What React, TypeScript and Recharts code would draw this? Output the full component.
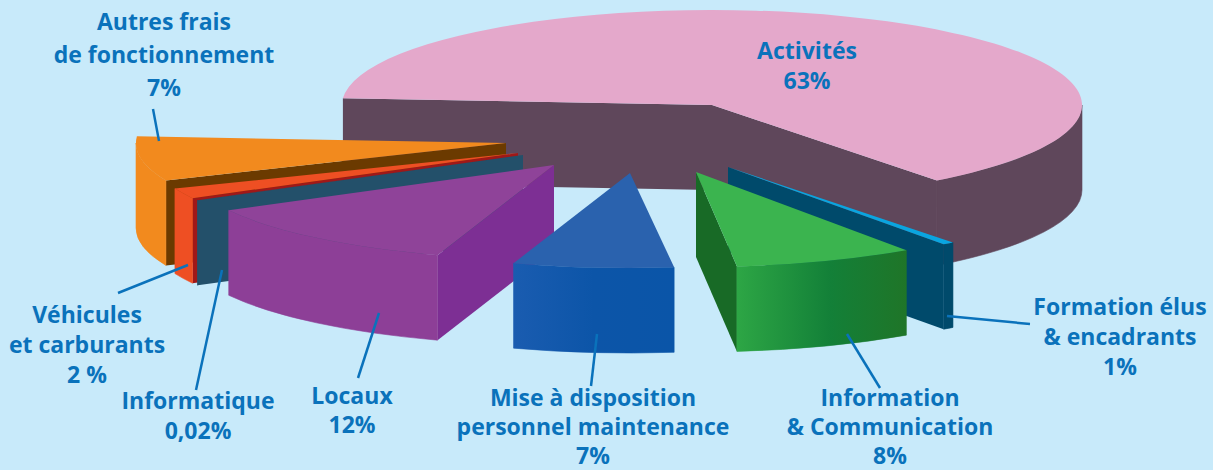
import React from "react";
import { PieChart, Pie } from "recharts";

// slices in clockwise order, starting from the left edge of the big one
const sliceNames = [
  "Activités",
  "Formation",
  "Information",
  "Mise",
  "Locaux",
  "Informatique",
  "Vehicules",
  "Autres",
];
const sliceShares = [63, 1, 8, 7, 12, 0.02, 2, 7];

const labelLines: Record<string, string[]> = {
  Activités: ["Activités", "63%"],
  Formation: ["Formation élus", "& encadrants", "1%"],
  Information: ["Information", "& Communication", "8%"],
  Mise: ["Mise à disposition", "personnel maintenance", "7%"],
  Locaux: ["Locaux", "12%"],
  Informatique: ["Informatique", "0,02%"],
  Vehicules: ["Véhicules", "et carburants", "2 %"],
  Autres: ["Autres frais", "de fonctionnement", "7%"],
};

const rows = sliceNames.map((name, i) => ({ name, value: sliceShares[i] }));
const rowsReversed = [...rows].reverse();

const WIDTH = 1213;
const HEIGHT = 470;
const CX = 712;
const CY = 105;
const RADIUS = 370;
const SQUASH = 95 / 370; // tilt of the disc
const DEPTH = 85;
const INK = "#0a72bb";
const BACKGROUND = "#c8eafa";

const backLayer = ["Activités", "Formation", "Information"];

// how far each slice was pulled out of the pie, its colours, and small
// angle nudges (s1, s2) because the original's slices aren't quite to scale
const sliceLook: Record<string, any> = {
  Activités: { dx: 0, dy: 0, s2: 1.8, top: "#e4a8cb", wall: "#5f475b", cut: "#5f475b" },
  Formation: { dx: 16, dy: 62, s1: 1.8, top: "#0aa5e0", wall: "#004a6b", cut: "#004a6b" },
  Information: { dx: -16, dy: 67, s1: 1, s2: 0.5, top: "#3bb44f", wall: "url(#greenWall)", cut: "#186a26" },
  Mise: { dx: -82, dy: 68, top: "#2a62ae", wall: "url(#blueWall)", cut: "#0f4f9f" },
  Locaux: { dx: -158, dy: 60, top: "#8f4399", wall: "#8d3f97", cut: "#7d2f94" },
  Informatique: { dx: -189, dy: 50, top: "#23506a", wall: "#23506a", cut: "#23506a" },
  Vehicules: { dx: -194, dy: 48, s2: -0.8, top: "#ee4f23", wall: "#ee4f23", cut: "#a01818" },
  Autres: { dx: -206, dy: 38, s1: -2, top: "#f28a1e", wall: "#f28a1e", cut: "#6b3a00" },
};

// label anchor points (x, first baseline, line gap) and leader lines
const labelLook: Record<string, any> = {
  Activités: { x: 807, y: 59, gap: 30 },
  Formation: { x: 1120, y: 315, gap: 30, line: [947, 316, 1030, 324] },
  Information: { x: 890, y: 406, gap: 29, line: [847, 334, 880, 388] },
  Mise: { x: 593, y: 406, gap: 29, line: [597, 334, 591, 386] },
  Locaux: { x: 352, y: 404, gap: 29, line: [379, 313, 358, 378] },
  Informatique: { x: 198, y: 409, gap: 30, line: [222, 270, 196, 390] },
  Vehicules: { x: 87, y: 323, gap: 30, line: [188, 265, 118, 293] },
  Autres: { x: 164, y: 30, gap: 33, line: [153, 109, 159, 141] },
};

const rad = (deg: number) => (deg * Math.PI) / 180;

function Slice3D(props: any) {
  const { cx, cy, outerRadius, startAngle, endAngle, name } = props;
  if (backLayer.includes(name) !== props.back) return <g />;
  const look = sliceLook[name];
  const ax = cx + look.dx;
  const ay = cy + look.dy;
  const rx = outerRadius;
  const ry = outerRadius * SQUASH;
  // screen angles grow clockwise
  const a1 = -Math.max(startAngle, endAngle) + (look.s1 || 0);
  const a2 = -Math.min(startAngle, endAngle) + (look.s2 || 0);
  const pt = (a: number) => [
    ax + rx * Math.cos(rad(a)),
    ay + ry * Math.sin(rad(a)),
  ];
  const [x1, y1] = pt(a1);
  const [x2, y2] = pt(a2);
  const big = a2 - a1 > 180 ? 1 : 0;

  const cutPath = (x: number, y: number) =>
    `M${ax},${ay} L${x},${y} L${x},${y + DEPTH} L${ax},${ay + DEPTH} Z`;

  // a cut face only shows when it turns toward the viewer
  const showCut1 = Math.cos(rad(a1)) < 0;
  const showCut2 = Math.cos(rad(a2)) > 0;

  // outer wall only shows on the front half
  const w1 = Math.max(a1, 0);
  const w2 = Math.min(a2, 180);
  let wallPath = "";
  if (w2 > w1) {
    const [wx1, wy1] = pt(w1);
    const [wx2, wy2] = pt(w2);
    wallPath =
      `M${wx1},${wy1} A${rx},${ry} 0 0 1 ${wx2},${wy2} ` +
      `L${wx2},${wy2 + DEPTH} A${rx},${ry} 0 0 0 ${wx1},${wy1 + DEPTH} Z`;
  }

  return (
    <g>
      {showCut1 && <path d={cutPath(x1, y1)} fill={look.cut} />}
      {showCut2 && <path d={cutPath(x2, y2)} fill={look.cut} />}
      {wallPath && <path d={wallPath} fill={look.wall} stroke={look.wall} strokeWidth={0.6} />}
      <path
        d={`M${ax},${ay} L${x1},${y1} A${rx},${ry} 0 ${big} 1 ${x2},${y2} Z`}
        fill={look.top}
      />
    </g>
  );
}

function SliceLabel(props: any) {
  const name = rowsReversed[props.index].name;
  const look = labelLook[name];
  return (
    <g>
      {look.line && (
        <line
          x1={look.line[0]}
          y1={look.line[1]}
          x2={look.line[2]}
          y2={look.line[3]}
          stroke={INK}
          strokeWidth={2.5}
        />
      )}
      {labelLines[name].map((text, i) => (
        <text
          key={text}
          x={look.x}
          y={look.y + i * look.gap}
          textAnchor="middle"
          fill={INK}
          fontFamily="'Open Sans', sans-serif"
          fontWeight={700}
          fontSize={23}
        >
          {text}
        </text>
      ))}
    </g>
  );
}

export default function App() {
  return (
    <div
      style={{
        position: "fixed",
        left: 0,
        top: 0,
        width: WIDTH,
        height: HEIGHT,
        overflow: "hidden",
        background: BACKGROUND,
      }}
    >
      <PieChart width={WIDTH} height={HEIGHT} margin={{ top: 0, right: 0, bottom: 0, left: 0 }}>
        <defs>
          <linearGradient id="greenWall" x1="0" y1="0" x2="1" y2="0">
            <stop offset="0%" stopColor="#2da645" />
            <stop offset="55%" stopColor="#138038" />
            <stop offset="100%" stopColor="#1f7528" />
          </linearGradient>
          <linearGradient id="blueWall" x1="0" y1="0" x2="1" y2="0">
            <stop offset="0%" stopColor="#1a5cb0" />
            <stop offset="50%" stopColor="#0c55a8" />
            <stop offset="100%" stopColor="#0a55a8" />
          </linearGradient>
        </defs>
        {/* painted clockwise: big slice, then the ones on the right */}
        <Pie
          data={rows}
          dataKey="value"
          nameKey="name"
          cx={CX}
          cy={CY}
          innerRadius={0}
          outerRadius={RADIUS}
          startAngle={176}
          endAngle={-184}
          stroke="none"
          isAnimationActive={false}
          shape={(p: any) => <Slice3D {...p} back={true} />}
        />
        {/* same angles walked the other way so Locaux then Mise land on top */}
        <Pie
          data={rowsReversed}
          dataKey="value"
          nameKey="name"
          cx={CX}
          cy={CY}
          innerRadius={0}
          outerRadius={RADIUS}
          startAngle={-184}
          endAngle={176}
          stroke="none"
          isAnimationActive={false}
          shape={(p: any) => <Slice3D {...p} back={false} />}
          label={SliceLabel}
          labelLine={false}
        />
      </PieChart>
    </div>
  );
}
